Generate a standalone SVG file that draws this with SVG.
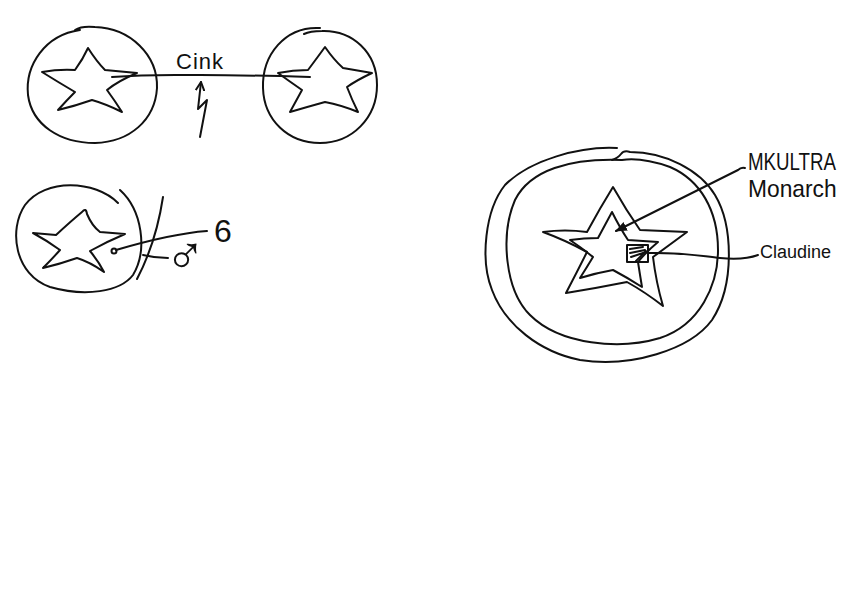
<svg xmlns="http://www.w3.org/2000/svg" width="842" height="595" viewBox="0 0 842 595">
<style>
.s{fill:none;stroke:#111;stroke-width:2;stroke-linecap:round;stroke-linejoin:round}
.t{font-family:"Liberation Sans",Arial,sans-serif;fill:#111}
</style>
<defs>
<marker id="ah" viewBox="0 0 10 10" refX="9" refY="5" markerWidth="6" markerHeight="6" orient="auto-start-reverse">
<path d="M0,1 L10,5 L0,9 Z" fill="#111"/>
</marker>
<marker id="oh" viewBox="0 0 10 10" refX="9" refY="5" markerWidth="5" markerHeight="5" orient="auto" markerUnits="strokeWidth">
<path d="M1,1 L9,5 L1,9" fill="none" stroke="#111" stroke-width="2" stroke-linecap="round" stroke-linejoin="round"/>
</marker>
</defs>
<rect width="842" height="595" fill="#fff"/>

<g id="node-left">
<path class="s" d="M80,30 C45,35 25,65 28,95 C32,125 60,143 95,143 C130,142 155,120 157,88 C158,55 130,28 95,27 C85,26 78,28 75,30"/>
<path class="s" d="M88,48 Q97,62 105,70 L137,73 Q118,81 107,90 Q115,101 122,112 Q106,104 92,100 Q75,106 58,110 Q67,100 75,92 Q58,82 42,72 Q59,69 75,70 Q83,59 88,48 Z"/>
</g>

<g id="node-right">
<path class="s" d="M320,28 C285,26 262,55 263,88 C264,120 288,143 320,143 C352,143 377,118 377,85 C377,52 352,30 322,31 C314,31 308,32 304,34"/>
<path class="s" d="M325,47 Q334,60 343,68 L372,73 Q357,80 347,87 Q352,100 358,112 Q341,105 325,102 Q307,107 290,112 Q296,101 302,90 Q289,81 278,73 Q293,70 308,70 Q317,58 325,47 Z"/>
</g>

<g id="node-6">
<path class="s" d="M118,203 C95,180 45,178 25,205 C8,230 15,275 50,287 C85,297 120,292 133,275 C148,250 142,210 120,190"/>
<path class="s" d="M163,197 C158,230 148,258 137,279"/>
<path class="s" d="M82,212 Q86,207 87,214 Q92,226 100,232 L125,234 Q106,242 90,251 Q99,262 104,272 Q90,262 77,258 Q60,264 43,268 Q53,258 60,250 Q46,240 33,233 Q45,234 56,235 Q70,222 82,212 Z"/>
<circle class="s" cx="114" cy="251" r="2.5"/>
</g>

<g id="node-big">
<path class="s" d="M617,148 C580,146 530,160 505,185 C485,210 480,260 492,290 C505,325 540,352 580,360 C630,368 690,350 712,320 C735,285 733,225 715,195 C700,170 665,152 630,152 Q624,150 621,154 Q618,158 612,160"/>
<path class="s" d="M622,160 C570,158 530,170 515,200 C500,235 505,290 530,315 C560,345 620,350 660,338 C700,325 718,285 718,250 C718,210 700,180 670,167 C650,160 635,158 622,160"/>
<path class="s" d="M613,187 Q626,210 640,230 L687,232 Q668,246 653,257 Q656,282 663,306 Q645,292 627,282 Q597,288 566,293 Q577,272 587,252 Q565,240 543,232 Q565,229 587,232 Q600,208 613,187 Z"/>
<path class="s" d="M612,212 Q620,228 628,240 L658,242 Q646,252 638,262 Q640,275 642,287 Q628,278 613,270 Q596,273 580,278 Q587,267 593,257 Q582,248 570,240 Q584,238 598,238 Q605,225 612,212 Z"/>
<rect class="s" x="627" y="245" width="21" height="17"/>
<path class="s" stroke-width="1.5" d="M630,249 L643,247 M630,253 L645,250 M631,257 L646,252 M636,261 L646,251"/>
</g>

<g id="connectors">
<path class="s" d="M112,77 C150,74 175,75 200,75 C240,75 275,76 310,77"/>
<path class="s" d="M200,137 L207,100 L198,109 L201,82" marker-end="url(#oh)"/>
<path class="s" d="M116,250 C150,240 180,233 207,231"/>
<path class="s" d="M143,255 Q155,258 168,258"/>
<path class="s" d="M745,168 Q741,167 738,170 L616,231" marker-end="url(#ah)"/>
<path class="s" d="M648,253 C680,252 700,256 720,258 C740,260 750,258 758,255"/>
</g>

<g id="labels">
<text class="t" x="176" y="69" font-size="22" letter-spacing="1">Cink</text>
<text class="t" x="214" y="242" font-size="32">6</text>
<text class="t" x="165" y="274" font-size="54" font-weight="200" font-family="DejaVu Sans">♂</text>
<text class="t" font-size="24" transform="translate(748,170) scale(0.78,1)">MKULTRA</text>
<text class="t" font-size="24" transform="translate(748,197) scale(0.95,1)">Monarch</text>
<text class="t" x="760" y="258" font-size="18">Claudine</text>
</g>
</svg>
